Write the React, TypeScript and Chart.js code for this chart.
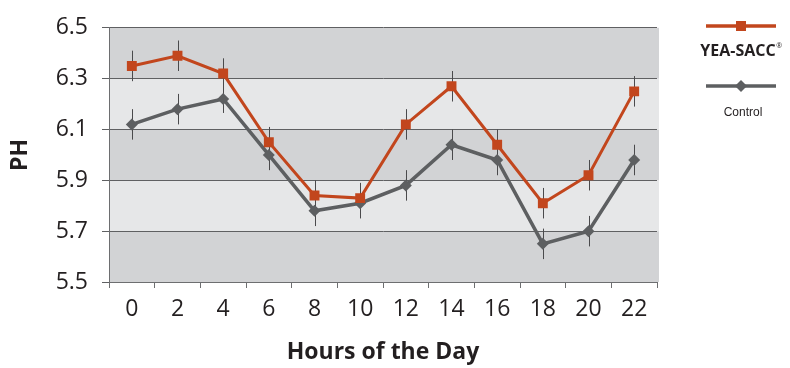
import React, { useEffect, useRef } from 'react';
import { Chart, registerables } from 'chart.js';

Chart.register(...registerables);

// ---- data ----
const hours = ['0', '2', '4', '6', '8', '10', '12', '14', '16', '18', '20', '22'];
const yeaSacc = [6.35, 6.39, 6.32, 6.05, 5.84, 5.83, 6.12, 6.27, 6.04, 5.81, 5.92, 6.25];
const control = [6.12, 6.18, 6.22, 6.0, 5.78, 5.81, 5.88, 6.04, 5.98, 5.65, 5.7, 5.98];
const yeaSaccErr = [0.06, 0.06, 0.06, 0.06, 0.06, 0.06, 0.06, 0.06, 0.06, 0.06, 0.06, 0.06];
const controlErr = [0.06, 0.06, 0.055, 0.06, 0.06, 0.06, 0.06, 0.06, 0.06, 0.06, 0.06, 0.06];
const yTicks = [5.5, 5.7, 5.9, 6.1, 6.3, 6.5];
const seriesNames = ['YEA-SACC', 'Control'];

const ORANGE = '#c2461d';
const GRAY = '#5d5f61';
const BAND_DARK = '#d2d3d5';
const BAND_LIGHT = '#e6e7e8';
const TEXT = '#231f20';
const FONT = '"Open Sans", "Noto Sans", sans-serif';

const errSets = [yeaSaccErr, controlErr];

const bandsPlugin = {
  id: 'bands',
  beforeDraw(chart: any) {
    const { ctx, chartArea } = chart;
    const y = chart.scales.y;
    ctx.save();
    for (let i = 0; i < yTicks.length - 1; i++) {
      const top = y.getPixelForValue(yTicks[i + 1]);
      const bot = y.getPixelForValue(yTicks[i]);
      ctx.fillStyle = i % 2 === 0 ? BAND_DARK : BAND_LIGHT;
      ctx.fillRect(chartArea.left, top, chartArea.right - chartArea.left + 2, bot - top);
    }
    ctx.restore();
  },
};

const errorBarsPlugin = {
  id: 'errorBars',
  beforeDatasetsDraw(chart: any) {
    const { ctx } = chart;
    const y = chart.scales.y;
    ctx.save();
    ctx.strokeStyle = '#4a4a4c';
    ctx.lineWidth = 1;
    chart.data.datasets.forEach((ds: any, i: number) => {
      const meta = chart.getDatasetMeta(i);
      const errs = errSets[i];
      meta.data.forEach((pt: any, j: number) => {
        const v = ds.data[j];
        const e = errs[j];
        const x = Math.round(pt.x) + 0.5;
        ctx.beginPath();
        ctx.moveTo(x, y.getPixelForValue(v + e));
        ctx.lineTo(x, y.getPixelForValue(v - e));
        ctx.stroke();
      });
    });
    ctx.restore();
  },
};

const legendPlugin = {
  id: 'customLegend',
  afterDraw(chart: any) {
    const { ctx, chartArea } = chart;
    const cx = chartArea.right + 84;
    ctx.save();
    // YEA-SACC
    ctx.strokeStyle = ORANGE;
    ctx.lineWidth = 3.5;
    ctx.beginPath();
    ctx.moveTo(cx - 35, 26);
    ctx.lineTo(cx + 35, 26);
    ctx.stroke();
    ctx.fillStyle = ORANGE;
    ctx.fillRect(cx - 5, 21, 10, 10);
    ctx.fillStyle = TEXT;
    ctx.font = 'bold 16px ' + FONT;
    ctx.textAlign = 'center';
    ctx.textBaseline = 'middle';
    const w = ctx.measureText(seriesNames[0]).width;
    ctx.fillText(seriesNames[0], cx - 3, 51);
    ctx.font = '7px ' + FONT;
    ctx.textAlign = 'left';
    ctx.fillText('®', cx - 3 + w / 2 + 0.5, 46);
    // Control
    ctx.strokeStyle = GRAY;
    ctx.lineWidth = 3.5;
    ctx.beginPath();
    ctx.moveTo(cx - 35, 86);
    ctx.lineTo(cx + 35, 86);
    ctx.stroke();
    ctx.fillStyle = GRAY;
    ctx.beginPath();
    ctx.moveTo(cx - 6, 86);
    ctx.lineTo(cx, 80);
    ctx.lineTo(cx + 6, 86);
    ctx.lineTo(cx, 92);
    ctx.closePath();
    ctx.fill();
    ctx.fillStyle = TEXT;
    ctx.font = '12px "Liberation Sans", Arial, sans-serif';
    ctx.textAlign = 'center';
    ctx.fillText(seriesNames[1], cx + 2, 113);
    ctx.restore();
  },
};

export default function App() {
  const ref = useRef<HTMLCanvasElement | null>(null);

  useEffect(() => {
    document.body.style.margin = '0';
    const canvas = ref.current;
    if (!canvas) return;
    const chart = new Chart(canvas, {
      type: 'line',
      data: {
        labels: hours,
        datasets: [
          {
            label: seriesNames[0],
            data: yeaSacc,
            borderColor: ORANGE,
            backgroundColor: ORANGE,
            borderWidth: 3,
            pointStyle: 'rect',
            pointRadius: 7,
            pointBorderWidth: 0,
            pointBackgroundColor: ORANGE,
            tension: 0,
          },
          {
            label: seriesNames[1],
            data: control,
            borderColor: GRAY,
            backgroundColor: GRAY,
            borderWidth: 3.5,
            pointStyle: 'rectRot',
            pointRadius: 6,
            pointBorderWidth: 0,
            pointBackgroundColor: GRAY,
            tension: 0,
          },
        ],
      },
      options: {
        responsive: false,
        animation: false,
        devicePixelRatio: 1,
        layout: { padding: { top: 26, right: 133, bottom: 0, left: 0 } },
        plugins: {
          legend: { display: false },
          tooltip: { enabled: false },
        },
        scales: {
          x: {
            type: 'category',
            offset: true,
            grid: {
              offset: true,
              drawOnChartArea: false,
              drawTicks: true,
              tickLength: 6,
              color: '#6d6e70',
            },
            border: { display: true, color: '#6d6e70', width: 1 },
            ticks: {
              color: TEXT,
              font: { family: FONT, size: 23 },
              padding: 8,
              maxRotation: 0,
              autoSkip: false,
            },
            title: {
              display: true,
              text: 'Hours of the Day',
              color: TEXT,
              font: { family: FONT, size: 23, weight: 'bold' },
              padding: { top: 0, bottom: 2 },
            },
            afterFit: (s: any) => {
              s.height = 86;
            },
          },
          y: {
            min: 5.5,
            max: 6.5,
            afterBuildTicks: (s: any) => {
              s.ticks = yTicks.map((v) => ({ value: v }));
            },
            grid: {
              color: '#5f6062',
              lineWidth: 1,
              tickLength: 7,
            },
            border: { display: true, color: '#6d6e70', width: 1 },
            ticks: {
              color: TEXT,
              font: { family: FONT, size: 23 },
              padding: 14,
              callback: (v: any) => Number(v).toFixed(1),
            },
            title: {
              display: true,
              text: 'PH',
              color: TEXT,
              font: { family: FONT, size: 23, weight: 'bold' },
              padding: { top: 7, bottom: 0 },
            },
            afterFit: (s: any) => {
              s.width = 109;
            },
          },
        },
      },
      plugins: [bandsPlugin, errorBarsPlugin, legendPlugin],
    } as any);
    return () => chart.destroy();
  }, []);

  return (
    <div style={{ width: 790, height: 368, background: '#fff' }}>
      <canvas ref={ref} width={790} height={368} style={{ display: 'block' }} />
    </div>
  );
}
